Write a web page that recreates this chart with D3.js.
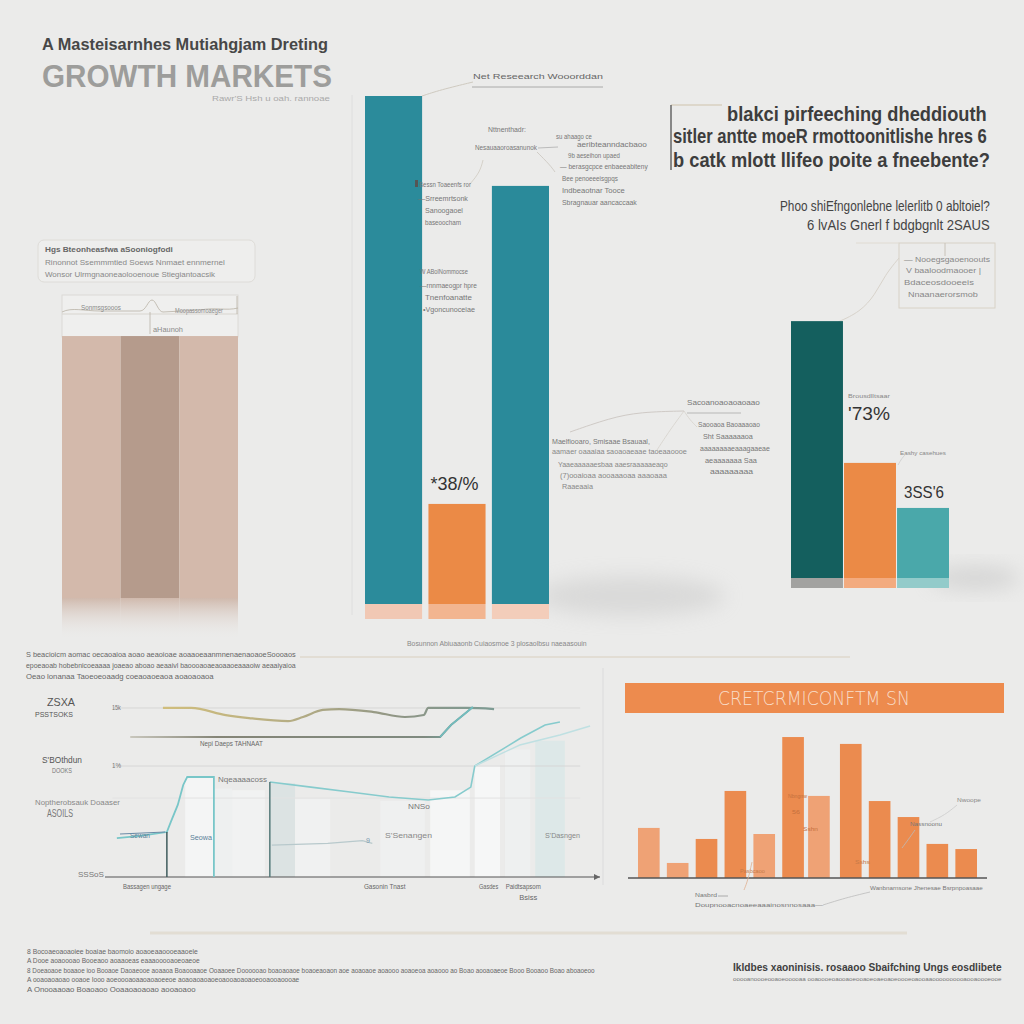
<!DOCTYPE html>
<html><head><meta charset="utf-8">
<script src="https://cdn.jsdelivr.net/npm/d3@7"></script>
<style>html,body{margin:0;padding:0;background:#ebebea;} svg{display:block;}</style>
</head><body><svg id="c" width="1024" height="1024"></svg>
<script>
// ---------------- DATA ----------------
const leftCats = ["North", "Central", "South"];
const leftValues = [77.5, 77.5, 77.5];

const midCats = ["Emerging A", "Growth", "Emerging B"];
const midValues = [100, 19.7, 82.3];
const midValueLabel = "*38/%";

const rightCats = ["Lead", "Mid", "Tail"];
const rightValues = [92.4, 41.4, 25.2];
const rightValueLabels = ["'73%", "", "3SS'6"];
const rightSmallLabels = ["Brousdlltsaar", "Eashy casehues", ""];

const histCats = ["h1","h2","h3","h4","h5","h6","h7","h8","h9","h10","h11","h12"];
const histValues = [31.3, 9.4, 24.4, 54.4, 27.5, 88.1, 51.3, 83.8, 48.1, 38.1, 21.3, 18.1];

// line chart series: [x, y] in chart units (0-100 each)
const lineGold = [[11.7,95.5],[17.4,95.5],[24.4,91.5],[29.1,89.8],[37.0,88.1],[40.0,90.4],[44.0,94.4],[47.3,94.9],[54.3,93.2],[60.6,90.4],[64.4,91.5],[65.3,95.5],[73.1,95.5],[78.6,94.9]];
const lineFlat = [[5.1,79.1],[16.6,79.1],[57.4,79.1],[67.7,79.1],[69.9,85.9],[73.1,93.2],[74.3,96.0]];
const lineTealA = [[2.4,22.0],[7.1,23.2],[12.5,25.4],[13.3,31.1],[14.7,40.7],[15.8,52.0],[16.6,56.5],[22.0,56.5],[22.0,0]];
const lineTealB = [[33.3,53.7],[41.6,50.8],[49.5,48.0],[57.4,45.2],[65.3,43.5],[70.7,45.2],[73.9,50.8],[74.7,62.7],[81.0,73.4],[84.0,78.5],[88.9,85.9],[91.9,87.6]];
const lineLight = [[74.7,62.7],[83.8,74.6],[91.9,80.2],[98.0,85.3]];
const lineFaint = [[33.7,18.0],[45.0,19.0],[52.0,20.5],[54.0,19.0]];
const dropLines = [[12.5,25.4],[33.3,53.7]];
const shadeCols = [[16.2,22.2,57],[22.2,25.7,50],[25.7,32.3,49],[33.3,38.4,53],[38.4,45.5,44],[55.6,64.6,43],[65.7,73.7,49],[74.7,79.8,63],[80.8,85.9,72],[86.9,92.9,77]];
const gridValues = [95.5, 62.7, 44.6];
const tickLabels = ["15k", "1%"];
const xAxisLabels = [["Bassagen ungage", 8.5], ["Gasonin Tnast", 56.5], ["Gasdes", 77.5], ["Paidtsapsom", 84.5]];

// ---------------- SETUP ----------------
const svg = d3.select("#c");
const FF = "'Liberation Sans', Arial, sans-serif";
svg.append("rect").attr("width",1024).attr("height",1024).attr("fill","#ebebea");
const defs = svg.append("defs");
defs.append("filter").attr("id","blur").attr("x","-50%").attr("y","-50%").attr("width","200%").attr("height","200%")
  .append("feGaussianBlur").attr("stdDeviation",10);

// text helper: w = target width; text is horizontally scaled to fit it
function T(x, y, s, o = {}) {
  let xx = x;
  if (o.w && o.a === "end") xx = x - o.w;
  if (o.w && o.a === "middle") xx = x - o.w / 2;
  const t = svg.append("text").text(s)
    .attr("font-family", o.ff || FF).attr("font-size", o.fs || 8)
    .attr("fill", o.c || "#7a7a7a").attr("font-weight", o.fw || "normal");
  if (o.w) {
    t.attr("x", 0).attr("y", 0);
    const n = t.node().getComputedTextLength() || o.w;
    t.attr("transform", `translate(${xx},${y}) scale(${(o.w / n).toFixed(4)},1)`);
  } else {
    t.attr("x", x).attr("y", y);
    if (o.a) t.attr("text-anchor", o.a);
  }
  if (o.op) t.attr("opacity", o.op);
  return t;
}
function L(pts, c, w, op) {
  svg.append("path").attr("d", d3.line().curve(d3.curveBasis)(pts)).attr("fill","none")
    .attr("stroke", c).attr("stroke-width", w || 1).attr("opacity", op == null ? 1 : op);
}

// ---------------- TITLE ----------------
T(42, 50, "A Masteisarnhes Mutiahgjam Dreting", {fs:16, fw:"bold", c:"#474747", w:286});
T(42, 87, "GROWTH MARKETS", {fs:32, fw:"bold", c:"#9d9d9b", w:290});
T(212, 101, "Rawr'S Hsh u oah. rannoae", {fs:8, c:"#a9a9a9", w:118});

// ---------------- LEFT PANEL ----------------
svg.append("rect").attr("x",38).attr("y",240).attr("width",217).attr("height",42).attr("rx",6)
  .attr("fill","#eeeeed").attr("stroke","#dedcd8");
T(45, 252, "Hgs Bteonheasfwa aSooniogfodi", {fs:8, fw:"bold", c:"#666", w:128});
T(45, 265, "Rinonnot Ssemmmtied Soews Nnmaet ennmernel", {fs:8, c:"#888", w:180});
T(45, 277, "Wonsor Ulrmgnaoneaolooenoue Stiegiantoacsik", {fs:8, c:"#888", w:170});

const xL = d3.scaleBand().domain(leftCats).range([62, 238]).paddingInner(0);
const yL = d3.scaleLinear().domain([0, 100]).range([598, 260]);
const leftColors = ["#d3b9ab", "#b59b8c", "#d3b9ab"];
const lgFade = defs.append("linearGradient").attr("id","fadeL").attr("x1",0).attr("x2",0).attr("y1",0).attr("y2",1);
lgFade.append("stop").attr("offset","0%").attr("stop-color","#cdb4a6").attr("stop-opacity",0.9);
lgFade.append("stop").attr("offset","100%").attr("stop-color","#ebebea").attr("stop-opacity",0);
svg.append("rect").attr("x",62).attr("y",295).attr("width",176).attr("height",42).attr("fill","#efefee").attr("stroke","#dcdad6");
svg.selectAll(".lb").data(leftValues).join("rect")
  .attr("x",(d,i)=>xL(leftCats[i])).attr("width",xL.bandwidth())
  .attr("y",d=>yL(d)).attr("height",d=>yL(0)-yL(d)).attr("fill",(d,i)=>leftColors[i]);
svg.selectAll(".lf").data(leftValues).join("rect")
  .attr("x",(d,i)=>xL(leftCats[i])).attr("width",xL.bandwidth())
  .attr("y",yL(0)).attr("height",42).attr("fill","url(#fadeL)");
svg.append("path").attr("d","M62,312 C72,307 84,311 100,311 L140,311 C146,311 148,300 152,300 C156,300 158,312 163,312 L200,310 C216,307 226,311 238,308")
  .attr("fill","none").attr("stroke","#b9b2a6").attr("stroke-width",0.8);
svg.append("line").attr("x1",62).attr("x2",238).attr("y1",314).attr("y2",314).attr("stroke","#d8d5cf");
svg.append("line").attr("x1",150).attr("x2",150).attr("y1",312).attr("y2",334).attr("stroke","#b9b2a6").attr("stroke-width",0.8);
svg.append("line").attr("x1",237).attr("x2",237).attr("y1",296).attr("y2",314).attr("stroke","#b9b2a6").attr("stroke-width",0.8);
T(81, 310, "Sonmsgsooos", {fs:7, c:"#8a8a8a", w:40});
T(175, 313, "Moopassomoaeger", {fs:7, c:"#8a8a8a", w:48});
T(153, 332, "aHaunoh", {fs:7, c:"#8a8a8a", w:30});

// ---------------- MIDDLE CHART ----------------
svg.append("ellipse").attr("cx",630).attr("cy",596).attr("rx",95).attr("ry",20).attr("fill","#b9b9b9").attr("opacity",0.35).attr("filter","url(#blur)");
svg.append("line").attr("x1",352).attr("x2",352).attr("y1",95).attr("y2",615).attr("stroke","#dedede");
const xM = d3.scaleBand().domain(midCats).range([365, 549]).paddingInner(0.1);
const yM = d3.scaleLinear().domain([0, 100]).range([604, 96]);
const midColors = ["#2b8b9b", "#eb8a46", "#2a8a9a"];
const midBase = ["#f1c8b4", "#f2b590", "#f3cdba"];
svg.selectAll(".mb").data(midValues).join("rect")
  .attr("x",(d,i)=>xM(midCats[i])).attr("width",xM.bandwidth())
  .attr("y",d=>yM(d)).attr("height",d=>yM(0)-yM(d)).attr("fill",(d,i)=>midColors[i]);
svg.selectAll(".mbb").data(midValues).join("rect")
  .attr("x",(d,i)=>xM(midCats[i])).attr("width",xM.bandwidth())
  .attr("y",yM(0)).attr("height",15).attr("fill",(d,i)=>midBase[i]);
T(xM(midCats[1]) + 2, yM(midValues[1]) - 14, midValueLabel, {fs:19, c:"#333", w:48});

// annotations middle
L([[422,96],[440,90],[473,82]], "#cfcac0", 1);
T(473, 79, "Net Reseearch Wooorddan", {fs:8, c:"#666", w:130});
svg.append("line").attr("x1",472).attr("x2",603).attr("y1",87).attr("y2",87).attr("stroke","#9a9a9a").attr("stroke-width",0.8);
T(488, 132, "Nttnenthadr:", {fs:7, c:"#777", w:38});
T(475, 150, "Nesauaaoroasanunok", {fs:7, c:"#777", w:62});
svg.append("line").attr("x1",538).attr("x2",558).attr("y1",148).attr("y2",147).attr("stroke","#bbb");
L([[537,152],[550,165],[555,172]], "#c9c4bc", 0.8);
L([[483,160],[480,172],[470,184]], "#cfcac0", 0.8);
T(556, 139, "su ahaago ce", {fs:7, c:"#777", w:36});
T(577, 147, "aeribteanndacbaoo", {fs:7, c:"#777", w:70});
T(568, 158, "9b aeseihon upaed", {fs:7, c:"#777", w:52});
T(560, 169, "\u2014 berasgcpce enbaeeabiteny", {fs:7, c:"#777", w:88});
T(562, 181, "Bee penoeeeisgpqs", {fs:7, c:"#777", w:56});
T(562, 193, "Indbeaotnar Tooce", {fs:7, c:"#777", w:63});
T(562, 205, "Sbragnauar aancaccaak", {fs:7, c:"#777", w:75});
svg.append("rect").attr("x",415).attr("y",180).attr("width",3).attr("height",7).attr("fill","#555");
T(419, 187, "Bessn Toaeenfs ror", {fs:7, c:"#777", w:52});
T(418, 201, "\u2014Srreemrtsonk", {fs:7, c:"#777", w:50});
T(425, 213, "Sanoogaoel", {fs:7, c:"#777", w:38});
T(425, 225, "baseoocham", {fs:7, c:"#777", w:36});
T(420, 274, "W ABolNommocse", {fs:7, c:"#777", w:48});
T(420, 288, "\u2014rnnmaeogpr hpre", {fs:7, c:"#777", w:57});
T(425, 300, "Tnenfoanatte", {fs:7, c:"#777", w:47});
T(423, 312, "\u2022Vgoncunoceiae", {fs:7, c:"#777", w:52});
// lower middle annotations
L([[570,432],[610,418],[640,412],[684,411]], "#cfcac6", 1);
L([[684,411],[670,430],[657,450]], "#d6d2cc", 0.8);
L([[684,411],[690,420],[697,427]], "#d6d2cc", 0.8);
T(552, 444, "Maelfiooaro, Smisaae Bsauaal,", {fs:7, c:"#777", w:98});
T(552, 454, "aamaer oaaaiaa  saoaoaeaae taoeaaoooe", {fs:7, c:"#888", w:135});
T(558, 467, "Yaaeaaaaaesbaa aaesraaaaaeaqo", {fs:7, c:"#888", w:110});
T(560, 478, "(7)ooaioaa aooaaaoaa aaaoaaa", {fs:7, c:"#888", w:107});
T(562, 489, "Raaeaaia", {fs:7, c:"#888", w:31});
T(687, 405, "Sacoanoaoaoaoaao", {fs:7, c:"#777", w:73});
svg.append("line").attr("x1",687).attr("x2",741).attr("y1",413).attr("y2",413).attr("stroke","#aaa").attr("stroke-width",0.8);
T(698, 427, "Saooaoa Baoaaaoao", {fs:7, c:"#777", w:62});
T(703, 439, "Sht Saaaaaaoa", {fs:7, c:"#777", w:50});
T(700, 451, "aaaaaaaaeaaagaaeae", {fs:7, c:"#777", w:70});
T(705, 463, "aeaaaaaaa Saa", {fs:7, c:"#777", w:52});
T(710, 474, "aaaaaaaaa", {fs:7, c:"#777", w:43});
T(407, 646, "Bosunnon Abiuaaonb Cuiaosmoe 3 plosaolbsu naeaasouin", {fs:7, c:"#888", w:180});

// ---------------- RIGHT TOP ----------------
svg.append("line").attr("x1",671).attr("x2",722).attr("y1",105).attr("y2",105).attr("stroke","#d9d0c0").attr("stroke-width",1.5);
svg.append("line").attr("x1",671).attr("x2",671).attr("y1",105).attr("y2",170).attr("stroke","#666").attr("stroke-width",1.5);
T(987, 121, "blakci pirfeeching dheddiouth", {fs:20, fw:"bold", c:"#3d3d3d", a:"end", w:260});
T(987, 143, "sitler antte moeR rmottoonitlishe hres 6", {fs:20, fw:"bold", c:"#3d3d3d", a:"end", w:314});
T(990, 167, "b catk mlott llifeo  poite a fneebente?", {fs:20, fw:"bold", c:"#3d3d3d", a:"end", w:317});
T(990, 211, "Phoo shiEfngonlebne lelerlitb 0 abltoiel?", {fs:14, c:"#444", a:"end", w:210});
T(990, 230, "6 lvAIs Gnerl f bdgbgnlt 2SAUS", {fs:14, c:"#444", a:"end", w:183});
svg.append("rect").attr("x",899).attr("y",243).attr("width",96).attr("height",65).attr("fill","none").attr("stroke","#d8d2c6");
svg.append("line").attr("x1",856).attr("x2",899).attr("y1",243).attr("y2",243).attr("stroke","#e0dbd2");
svg.append("line").attr("x1",945).attr("x2",945).attr("y1",243).attr("y2",256).attr("stroke","#c8c2b8");
L([[899,258],[885,275],[875,295],[860,312],[838,322]], "#d8d3cb", 1);
T(904, 262, "\u2014 Nooegsgaoenoouts", {fs:7, c:"#888", w:86});
T(906, 273, "V baaloodmaooer |", {fs:7, c:"#888", w:75});
T(904, 285, "Bdaceosdooeeis", {fs:7, c:"#888", w:70});
T(908, 297, "Nnaanaerorsmob", {fs:7, c:"#888", w:70});

// right bars
svg.append("ellipse").attr("cx",975).attr("cy",578).attr("rx",45).attr("ry",12).attr("fill","#b5b5b5").attr("opacity",0.4).attr("filter","url(#blur)");
const xR = d3.scaleBand().domain(rightCats).range([791, 949]).paddingInner(0.02);
const yR = d3.scaleLinear().domain([0, 100]).range([578, 300]);
const rightColors = ["#145f5e", "#eb8a46", "#4aa8aa"];
const rightBase = ["#a2a2a0", "#f3ab7f", "#93cbca"];
svg.selectAll(".rb").data(rightValues).join("rect")
  .attr("x",(d,i)=>xR(rightCats[i])).attr("width",xR.bandwidth())
  .attr("y",d=>yR(d)).attr("height",d=>yR(0)-yR(d)).attr("fill",(d,i)=>rightColors[i]);
svg.selectAll(".rbb").data(rightValues).join("rect")
  .attr("x",(d,i)=>xR(rightCats[i])).attr("width",xR.bandwidth())
  .attr("y",yR(0)).attr("height",10).attr("fill",(d,i)=>rightBase[i]);
T(xR(rightCats[1]) + 4, 420, rightValueLabels[0], {fs:18, c:"#333", w:42});
T(xR(rightCats[1]) + 4, 398, rightSmallLabels[0], {fs:6, c:"#888", w:42});
T(xR(rightCats[2]) + 7, yR(rightValues[2]) - 10, rightValueLabels[2], {fs:17, c:"#333", w:40});
T(xR(rightCats[2]) + 3, 455, rightSmallLabels[1], {fs:6, c:"#888", w:46});
L([[898,465],[902,458],[906,454]], "#ccc", 0.8);

// ---------------- SEPARATORS ----------------
svg.append("line").attr("x1",300).attr("x2",850).attr("y1",657).attr("y2",657).attr("stroke","#e2ddd4").attr("stroke-width",2);
svg.append("line").attr("x1",150).attr("x2",907).attr("y1",933).attr("y2",933).attr("stroke","#e2ddd3").attr("stroke-width",3);
svg.append("line").attr("x1",603).attr("x2",603).attr("y1",668).attr("y2",885).attr("stroke","#e0e0e0").attr("stroke-width",1.5);

// ---------------- LINE CHART ----------------
T(26, 657, "S beacioicm aomac oecaoaioa aoao aeaoioae aoaaoeaanmnenaenaoaoeSoooaos", {fs:7, c:"#666", w:270});
T(26, 668, "epoeaoab hobebnicoeaaaa joaeao aboao aeaaivl baoooaoaeaoaaoeaaaoiw  aeaaiyaioa", {fs:7, c:"#666", w:270});
T(26, 679, "Oeao lonanaa  Taoeoeoaadg coeaoaoeaoa aoaoaoaoa", {fs:7, c:"#666", w:188});

const xC = d3.scaleLinear().domain([0, 100]).range([105, 600]);
const yC = d3.scaleLinear().domain([0, 100]).range([877, 700]);
const shadeFills = ["#f6f7f7", "#eff1f1", "#f2f3f3", "#d9e2e2", "#f1f2f2", "#f0f1f1", "#f7f8f8", "#f8f9f9", "#eef1f1", "#dbe7e7"];
svg.selectAll(".sc").data(shadeCols).join("rect")
  .attr("x",d=>xC(d[0])).attr("width",d=>xC(d[1])-xC(d[0]))
  .attr("y",d=>yC(d[2])).attr("height",d=>yC(0)-yC(d[2]))
  .attr("fill",(d,i)=>shadeFills[i]).attr("opacity",0.85);
svg.selectAll(".gl").data(gridValues).join("line")
  .attr("x1",xC(1.5)).attr("x2",xC(96)).attr("y1",d=>yC(d)).attr("y2",d=>yC(d))
  .attr("stroke",(d,i)=> i===2 ? "#e2e2e2" : "#d6d6d6").attr("stroke-width",1);
tickLabels.forEach((t,i)=>T(xC(1.4), yC(gridValues[i]) + 2, t, {fs:7, c:"#777", w:9}));
// axis
svg.append("line").attr("x1",xC(0)).attr("x2",xC(100)).attr("y1",yC(0)).attr("y2",yC(0)).attr("stroke","#555").attr("stroke-width",1.2);
svg.append("path").attr("d",`M${xC(100)},${yC(0)} l-6,-3 l0,6 z`).attr("fill","#666");
xAxisLabels.forEach(([t,v])=>T(xC(v), yC(0)+12, t, {fs:7, c:"#666", a:"middle", w: t.length*3.2}));
T(xC(85.5), yC(0)+23, "Bsiss", {fs:7, c:"#666", a:"middle", w:18});

const lg = defs.append("linearGradient").attr("id","goldG").attr("gradientUnits","userSpaceOnUse")
  .attr("x1",xC(10)).attr("x2",xC(80)).attr("y1",0).attr("y2",0);
lg.append("stop").attr("offset","0%").attr("stop-color","#d2bf7c");
lg.append("stop").attr("offset","40%").attr("stop-color","#b5ad84");
lg.append("stop").attr("offset","70%").attr("stop-color","#8f9585");
lg.append("stop").attr("offset","100%").attr("stop-color","#7c9c95");
const lg2 = defs.append("linearGradient").attr("id","flatG").attr("gradientUnits","userSpaceOnUse")
  .attr("x1",xC(5)).attr("x2",xC(75)).attr("y1",0).attr("y2",0);
lg2.append("stop").attr("offset","0%").attr("stop-color","#c9c7bd");
lg2.append("stop").attr("offset","25%").attr("stop-color","#858577");
lg2.append("stop").attr("offset","85%").attr("stop-color","#7f8a80");
lg2.append("stop").attr("offset","100%").attr("stop-color","#6fb3b0");

const line = d3.line().x(d=>xC(d[0])).y(d=>yC(d[1]));
const lineS = d3.line().x(d=>xC(d[0])).y(d=>yC(d[1])).curve(d3.curveMonotoneX);
svg.append("path").attr("d",lineS(lineGold)).attr("fill","none").attr("stroke","url(#goldG)").attr("stroke-width",2.2);
svg.append("path").attr("d",line(lineFlat)).attr("fill","none").attr("stroke","url(#flatG)").attr("stroke-width",2);
svg.append("path").attr("d",line(lineFlat.slice(3))).attr("fill","none").attr("stroke","#72bdbf").attr("stroke-width",1.6);
svg.append("path").attr("d",line(lineTealA)).attr("fill","none").attr("stroke","#78c6c8").attr("stroke-width",1.8);
svg.append("path").attr("d",line(lineTealB)).attr("fill","none").attr("stroke","#86cbcd").attr("stroke-width",1.6);
svg.append("path").attr("d",line(lineLight)).attr("fill","none").attr("stroke","#bfe0e2").attr("stroke-width",1.5);
svg.append("path").attr("d",line(lineFaint)).attr("fill","none").attr("stroke","#b8c9cc").attr("stroke-width",1.2);
svg.selectAll(".dl").data(dropLines).join("line")
  .attr("x1",d=>xC(d[0])).attr("x2",d=>xC(d[0])).attr("y1",d=>yC(d[1])).attr("y2",yC(0))
  .attr("stroke",(d,i)=> i===0 ? "#3e5b5c" : "#557a7a").attr("stroke-width",1.5);

// y-side labels
T(47, 706, "ZSXA", {fs:10, c:"#555", w:28});
T(35, 717, "PSSTSOKS", {fs:8, c:"#555", w:38});
T(42, 763, "S'BOthdun", {fs:9, c:"#555", w:40});
T(52, 773, "DOOKS", {fs:7, c:"#777", w:20});
T(35, 805, "Noptherobsauk  Doaaser", {fs:7, c:"#888", w:85});
T(47, 817, "ASOILS", {fs:10, c:"#777", w:26});
T(78, 877, "SSSoS", {fs:7, c:"#777", w:26});
// in-chart labels
T(200, 746, "Nepi Daeps TAHNAAT", {fs:7, c:"#666", w:63});
T(218, 782, "Nqeaaaacoss", {fs:7, c:"#777", w:49});
T(408, 809, "NNSo", {fs:7, c:"#777", w:22});
T(385, 838, "S'Senangen", {fs:7, c:"#888", w:47});
T(366, 843, "9", {fs:7, c:"#7a9ab0", w:4});
T(545, 838, "S'Dasngen", {fs:7, c:"#888", w:35});
T(130, 838, "Sewan", {fs:7, c:"#5a7f98", w:20});
T(190, 840, "Seowa", {fs:7, c:"#5a7f98", w:22});
svg.append("line").attr("x1",120).attr("x2",165).attr("y1",834).attr("y2",832).attr("stroke","#6a8aa6").attr("stroke-width",1);

// ---------------- HISTOGRAM ----------------
svg.append("rect").attr("x",625).attr("y",683).attr("width",379).attr("height",30).attr("fill","#ed8b4e");
T(814, 705, "CRETCRMICONFTM SN", {fs:19, c:"#f8ddc9", a:"middle", w:192, ff:"'DejaVu Sans', sans-serif"}).attr("font-weight",200);
const xH = d3.scaleBand().domain(histCats).range([638, 977]).paddingInner(0.25);
const yH = d3.scaleLinear().domain([0, 100]).range([878, 718]);
const lightIdx = new Set([0, 1, 4, 6]);
svg.selectAll(".hb").data(histValues).join("rect")
  .attr("x",(d,i)=>xH(histCats[i]) + (i===6 ? -3 : 0)).attr("width",xH.bandwidth())
  .attr("y",d=>yH(d)).attr("height",d=>yH(0)-yH(d))
  .attr("fill",(d,i)=> lightIdx.has(i) ? "#efa275" : "#eb8b4f");
svg.append("line").attr("x1",628).attr("x2",987).attr("y1",yH(0)).attr("y2",yH(0)).attr("stroke","#555").attr("stroke-width",1.5);
T(957, 802, "Nwoope", {fs:6, c:"#888", w:24});
L([[957,805],[945,815],[930,822]], "#ccc", 0.8);
T(910, 826, "Nassnoonu", {fs:6, c:"#777", w:32});
L([[915,830],[908,840],[902,848]], "#bbb", 0.8);
T(788, 798, "Nbngnw", {fs:6, c:"#c5703d", w:19});
T(792, 814, "56", {fs:6, c:"#c5703d", w:8});
T(803, 831, "Sshn", {fs:6, c:"#c5703d", w:15});
T(740, 873, "Pasbcaoo", {fs:6, c:"#c77a48", w:25});
T(855, 864, "Sshs", {fs:6, c:"#c77a48", w:15});
T(870, 890, "Wanbnarnsone  Jhenesae  Bsrpnpoasaae", {fs:6, c:"#777", w:113});
T(695, 897, "Nasbrd", {fs:6, c:"#777", w:22});
svg.append("line").attr("x1",718).attr("x2",728).attr("y1",896).attr("y2",896).attr("stroke","#aaa");
T(695, 907, "Doupnooacnoaeeaaainosnnosaaa\u2014", {fs:6, c:"#777", w:128});
L([[823,905],[845,898],[870,892]], "#bbb", 0.8);
L([[752,862],[748,880],[744,890]], "#e0b090", 0.8);

// ---------------- BOTTOM TEXT ----------------
T(27, 954, "8 Bocoaeoaoaoiee boaiae  baomoio aoaoeaaoooeaaoele", {fs:7, c:"#666", w:171});
T(27, 963, "A Dooe aoaoooao Booeaoo aoaaoeas eaaaooooaoeoaeoe", {fs:7, c:"#666", w:173});
T(27, 973, "8 Doeaoaoe boaaoe ioo Booaoe Daoaeooe aoaaoa Boaooaaoe Ooaaoee Doooooao boaoaoaoe boaoeaoaon aoe aoaoaoe aoaooo aoaoeoa aoaooo ao Boao aooaoaeoe Booo Booaoo Boao aboaoeoo", {fs:7, c:"#666", w:568});
T(27, 982, "A ooaoaoaoao ooaoe Iooo aoeoooaoaaoaoaoeeoe aoaoaoaoaoeoaooaoaoaoeooaooaoooae", {fs:7, c:"#666", w:273});
T(27, 992, "A Onooaaoao Boaoaoo Ooaaoaoaoao aooaoaoo", {fs:7, c:"#666", w:169});
T(733, 971, "Ikldbes xaoninisis.  rosaaoo   Sbaifching Ungs eosdlibete", {fs:11, fw:"bold", c:"#3f3f3f", w:269});
T(733, 981, "ooooanoooeooaoeooooaa ooaoooeoaooaoeooaoeoaeoaoeoooeoaooaaoooooooooaooaoooeooe", {fs:6, c:"#777", w:269});
</script></body></html>
